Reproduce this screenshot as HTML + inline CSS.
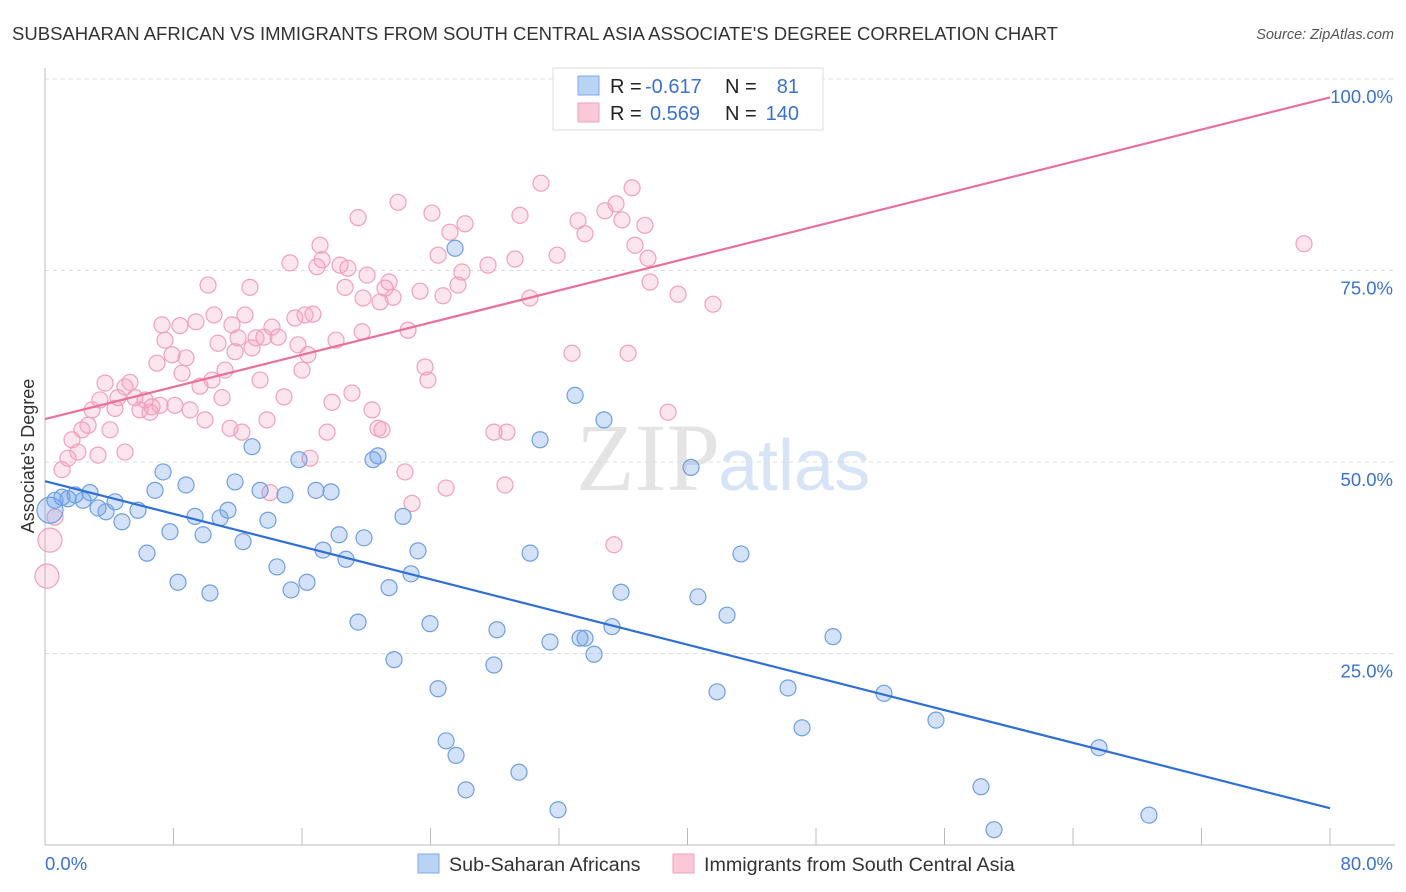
<!DOCTYPE html>
<html><head><meta charset="utf-8"><style>
body{margin:0;background:#fff;font-family:"Liberation Sans",sans-serif;}
svg{display:block}
</style></head><body>
<svg id="chart" width="1406" height="892" xmlns="http://www.w3.org/2000/svg">
<text x="12" y="40" font-size="18.4" fill="#333" textLength="1046" lengthAdjust="spacingAndGlyphs">SUBSAHARAN AFRICAN VS IMMIGRANTS FROM SOUTH CENTRAL ASIA ASSOCIATE'S DEGREE CORRELATION CHART</text>
<text x="1394" y="39" font-size="14.5" fill="#555" font-style="italic" text-anchor="end">Source: ZipAtlas.com</text>
<text transform="translate(34,456) rotate(-90)" font-size="18" fill="#333" text-anchor="middle">Associate's Degree</text>
<text x="720" y="490" font-size="96" fill="#e4e4e4" text-anchor="end" font-family="Liberation Serif">ZIP</text>
<text x="718" y="490" font-size="72" fill="#d6e4f5">atlas</text>
<g id="grid"></g><g id="ticks"></g><g id="pts"></g><g id="lines"></g>
<g font-size="20">
<rect x="553" y="68" width="270" height="62" fill="#fff" stroke="#ddd"/>
<rect x="578" y="76" width="21" height="19" fill="#b9d3f5" stroke="#7fa9e6"/>
<rect x="578" y="103" width="21" height="19" fill="#fac8d6" stroke="#f0a0bb"/>
<text x="610" y="93" fill="#222">R =</text><text x="645" y="93" fill="#3a72cf">-0.617</text>
<text x="725" y="93" fill="#222">N =</text><text x="799" y="93" fill="#3a72cf" text-anchor="end">81</text>
<text x="610" y="120" fill="#222">R =</text><text x="650" y="120" fill="#3a72cf">0.569</text>
<text x="725" y="120" fill="#222">N =</text><text x="799" y="120" fill="#3a72cf" text-anchor="end">140</text>
</g>
<g font-size="19.7">
<rect x="418" y="854" width="21" height="19" fill="#b9d3f5" stroke="#7fa9e6"/>
<text x="449" y="871" fill="#333">Sub-Saharan Africans</text>
<rect x="673" y="854" width="21" height="19" fill="#fac8d6" stroke="#f0a0bb"/>
<text x="704" y="871" fill="#333">Immigrants from South Central Asia</text>
</g>
</svg>
<script>
const blueX=[0.62,1.06,1.43,1.87,2.37,2.80,3.30,3.80,4.36,4.79,5.79,6.35,6.85,7.35,7.78,8.28,8.78,9.34,9.84,10.27,10.9,11.39,11.83,12.33,12.89,13.39,13.88,14.44,14.94,15.32,15.81,16.31,16.87,17.31,17.81,18.31,18.74,19.49,19.86,20.42,20.73,21.42,21.73,22.29,22.79,23.22,23.97,24.47,24.97,25.59,26.21,27.95,28.14,29.51,30.2,30.82,31.44,31.94,33.0,33.31,33.62,34.18,34.8,35.3,35.86,40.22,40.65,41.84,42.46,43.33,46.26,47.13,49.06,52.23,55.47,58.27,59.08,65.62,68.73,25.53,0.31];
const blueY=[45.0,45.4,45.2,45.7,45.0,46.0,44.0,43.5,44.8,42.2,43.7,38.1,46.3,48.7,40.9,34.3,47.0,42.9,40.5,32.9,42.7,43.7,47.4,39.6,52.0,46.3,42.4,36.3,45.7,33.3,50.3,34.3,46.3,38.5,46.1,40.5,37.3,29.1,40.1,50.3,50.8,33.6,24.2,42.9,35.4,38.4,28.9,20.4,13.6,11.7,7.2,23.5,28.1,9.5,38.1,52.9,26.5,4.6,58.7,27.0,27.0,24.9,55.5,28.5,33.0,49.3,32.4,20.0,30.0,38.0,20.5,15.3,27.2,19.8,16.3,7.6,2.0,12.7,3.9,77.9,43.7];
const pinkX=[0.12,0.31,0.62,1.06,1.43,1.68,2.05,2.30,2.68,2.93,3.30,3.42,3.74,4.05,4.36,4.54,4.98,4.98,5.29,5.60,5.91,6.23,6.54,6.66,6.97,7.16,7.28,7.47,7.91,8.09,8.40,8.53,8.78,9.03,9.40,9.65,9.96,10.15,10.40,10.52,10.77,11.02,11.21,11.52,11.64,11.83,12.02,12.26,12.45,12.76,12.89,13.14,13.39,13.63,13.82,14.01,14.13,14.51,14.88,15.25,15.56,15.75,16.0,16.19,16.37,16.50,16.68,16.93,17.12,17.25,17.56,17.87,18.12,18.37,18.68,18.86,19.11,19.49,19.74,19.80,20.05,20.36,20.73,20.86,20.98,21.17,21.42,21.67,21.98,22.41,22.60,22.85,23.35,23.66,23.84,24.09,24.47,24.78,24.97,25.21,25.71,25.96,26.15,27.58,27.95,28.76,28.64,29.26,29.57,30.19,30.88,31.88,32.81,33.18,33.62,34.86,35.42,35.55,35.92,36.30,36.55,36.73,37.35,37.54,37.67,38.79,39.41,41.59,78.38];
const pinkY=[35.1,39.8,42.8,49.0,50.5,52.9,51.3,54.2,54.8,56.8,50.9,58.1,60.3,54.2,57.0,58.4,51.3,59.8,60.4,58.4,56.8,58.1,56.5,57.2,62.9,57.4,67.9,65.9,64.0,57.4,67.8,61.6,63.6,56.8,68.3,59.9,55.5,73.1,60.7,69.2,65.5,58.4,62.0,54.4,67.9,64.4,66.2,53.9,69.2,72.8,64.9,66.2,60.7,66.3,55.5,46.0,67.6,66.3,58.5,76.0,68.8,65.3,62.0,69.2,64.0,50.5,69.3,75.5,78.3,76.4,53.9,57.8,65.9,75.7,72.8,75.3,59.0,81.9,67.0,71.4,74.4,56.8,54.4,70.9,54.2,72.7,73.5,71.5,83.9,48.7,67.2,44.6,72.3,62.4,60.7,82.5,77.0,71.7,46.6,80.0,73.1,74.8,81.1,75.7,53.9,53.9,47.0,76.5,82.2,71.4,86.4,77.0,64.2,81.5,79.8,82.8,39.2,83.7,81.6,64.2,85.8,78.3,80.9,76.6,73.5,56.5,71.9,70.6,78.5];
const blueLine=[47.5,4.8];
const pinkLine=[55.6,97.6];
const yTicks=[25,50,75,100];
const yTickLabels=["25.0%","50.0%","75.0%","100.0%"];
const xTicks=[0,8,16,24,32,40,48,56,64,72,80];
const NS="http://www.w3.org/2000/svg";
const X=v=>45+v/80*1285, Y=v=>845-v/100*766;
function mk(p,t,a){const e=document.createElementNS(NS,t);for(const k in a)e.setAttribute(k,a[k]);document.getElementById(p).appendChild(e);return e;}
yTicks.forEach((t,i)=>{
 const l=mk('grid','line',{x1:45,x2:1395,y1:Y(t),y2:Y(t),stroke:'#ddd','stroke-dasharray':'4,4'});
 
 
 const tx=mk('grid','text',{x:1393,y:Y(t)+24,'font-size':18.5,fill:'#3a72cf','text-anchor':'end'});
 tx.textContent=yTickLabels[i];
 
 
});
const ax=mk('ticks','line',{x1:45,x2:1395,y1:845,y2:845,stroke:'#bbb'});


const ay=mk('ticks','line',{x1:45,x2:45,y1:68,y2:845,stroke:'#bbb'});


xTicks.forEach(t=>{const l=mk('ticks','line',{x1:X(t),x2:X(t),y1:828,y2:845,stroke:'#bbb'});
 
 });
[[0,"0.0%","start",45],[80,"80.0%","end",1393]].forEach(d=>{const tx=mk('ticks','text',{x:d[3],y:870,'font-size':18.5,fill:'#3a72cf','text-anchor':d[2]});tx.textContent=d[1];
 
 });
pinkX.forEach((x,i)=>{const r=i<2?12:8;const c=mk('pts','circle',{cx:X(x),cy:Y(pinkY[i]),r:r,fill:'rgba(245,160,190,0.28)',stroke:'#f0a0bb','stroke-width':1.2});
 
 });
blueX.forEach((x,i)=>{const r=i==blueX.length-1?13:8;const c=mk('pts','circle',{cx:X(x),cy:Y(blueY[i]),r:r,fill:'rgba(110,160,235,0.3)',stroke:'#6f9fe3','stroke-width':1.2});
 
 });
const bl=mk('lines','line',{x1:X(0),y1:Y(blueLine[0]),x2:X(80),y2:Y(blueLine[1]),stroke:'#2f6fd6','stroke-width':2.2});


const pl=mk('lines','line',{x1:X(0),y1:Y(pinkLine[0]),x2:X(80),y2:Y(pinkLine[1]),stroke:'#e8709a','stroke-width':2.2});


</script>
</body></html>
